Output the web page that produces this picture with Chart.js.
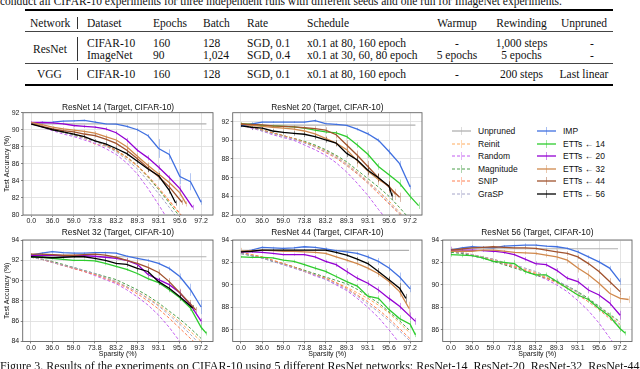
<!DOCTYPE html>
<html><head><meta charset="utf-8">
<script src="https://cdn.jsdelivr.net/npm/chart.js@4"></script>
<style>
html,body{margin:0;padding:0;background:#fff;width:640px;height:369px;overflow:hidden;position:relative}
.t{position:absolute;font-family:'Liberation Serif','Times New Roman',serif;font-size:11.5px;color:#111;white-space:nowrap;line-height:12px}
.c{transform:translateX(-50%)}
.rule{position:absolute;background:#000;left:25px;width:588px}
.vbar{position:absolute;width:1px;background:#333;left:77px}
canvas{position:absolute}
.lg{position:absolute;font-family:'Liberation Sans',Arial,sans-serif;font-size:8.5px;color:#111;white-space:nowrap;line-height:10px}
.sw{position:absolute}
</style></head><body>
<div class="t" style="left:0;top:-5.5px">conduct all CIFAR-10 experiments for three independent runs with different seeds and one run for ImageNet experiments.</div>
<div class="rule" style="top:9px;height:1.5px"></div>
<div class="rule" style="top:31px;height:1px;background:#444"></div>
<div class="rule" style="top:63px;height:1px;background:#444"></div>
<div class="rule" style="top:84px;height:1.5px"></div>
<div class="vbar" style="top:16.5px;height:12px"></div>
<div class="vbar" style="top:36.5px;height:24px"></div>
<div class="vbar" style="top:68px;height:12px"></div>
<div id="table"></div>
<div id="legend"></div>
<canvas id="c0"></canvas><canvas id="c1"></canvas><canvas id="c2"></canvas><canvas id="c3"></canvas><canvas id="c4"></canvas>
<div class="t" style="left:0;top:359.5px;font-size:12px;line-height:13px">Figure 3. Results of the experiments on CIFAR-10 using 5 different ResNet networks: ResNet-14, ResNet-20, ResNet-32, ResNet-44</div>
<script>
// ---------- table text ----------
const tableHeader = ['Network','Dataset','Epochs','Batch','Rate','Schedule','Warmup','Rewinding','Unpruned'];
const rowResNetCifar = ['CIFAR-10','160','128','SGD, 0.1','x0.1 at 80, 160 epoch','-','1,000 steps','-'];
const rowResNetImageNet = ['ImageNet','90','1,024','SGD, 0.4','x0.1 at 30, 60, 80 epoch','5 epochs','5 epochs','-'];
const rowVgg = ['CIFAR-10','160','128','SGD, 0.1','x0.1 at 80, 160 epoch','-','200 steps','Last linear'];
const groupNames = ['ResNet','VGG'];

// ---------- chart data ----------
const levels = [0,1,2,3,4,5,6,7,8,9,10,11,12,13,14,15,16];
const xTickValues = [0,2,4,6,8,10,12,14,16];
const xTickLabels = ['0.0','36.0','59.0','73.8','83.2','89.3','93.1','95.6','97.2'];
const titles = ['ResNet 14 (Target, CIFAR-10)','ResNet 20 (Target, CIFAR-10)','ResNet 32 (Target, CIFAR-10)','ResNet 44 (Target, CIFAR-10)','ResNet 56 (Target, CIFAR-10)'];
const unpruned = [90.7, 91.62, 92.35, 93.08, 93.22];
const unprunedEnd = [16.5, 16.5, 16.5, 15.9, 15.8];

// ResNet 14
const r14Reinit = [90.8,90.4,90.0,89.7,89.4,89.0,88.3,88.1,87.5,86.7,85.7,84.4,83.0,81.6,80.1,78.5,76.5];
const r14Random = [90.8,90.3,89.9,89.5,89.2,88.8,88.4,87.8,87.1,86.1,84.8,83.1,81.2,79.2,77.0,74.5,72.0];
const r14Magnitude = [90.7,90.4,90.0,89.7,89.4,89.1,88.7,88.2,87.6,86.8,85.8,84.5,83.0,81.4,79.8,78.0,76.0];
const r14Snip = [90.8,90.4,90.1,89.8,89.5,89.1,88.7,88.2,87.6,86.8,85.8,84.6,83.2,81.7,80.2,78.5,76.5];
const r14Grasp = [90.7,90.4,90.0,89.7,89.3,89.0,88.6,88.1,87.4,86.5,85.4,84.0,82.5,80.9,79.2,77.5,75.5];
const r14Imp = [90.75,90.85,90.9,91.0,91.05,91.1,90.9,90.7,90.65,90.4,90.0,89.3,87.8,87.1,84.5,83.9,81.5];
const r14ImpErr = [0.1,0.15,0.1,0.1,0.1,0.1,0.15,0.1,0.1,0.15,0.2,0.2,1.1,0.6,0.9,1.0,0.3];
const r14E20x = [0,1,2,3,4,5,6,7,8,9,10,11,12,13,14,15.2];
const r14E20 = [90.85,90.85,90.8,90.7,90.5,90.4,90.3,90.1,89.65,88.8,87.6,86.7,85.6,84.4,83.1,80.9];
const r14E20Err = [0.15,0.1,0.1,0.15,0.2,0.2,0.15,0.2,0.2,0.25,0.2,0.3,0.3,0.25,0.35,0.3];
const r14E32x = [0,1,2,3,4,5,6,7,8,9,10,11,12,13,14,14.6];
const r14E32 = [90.85,90.6,90.3,90.1,89.95,89.8,89.6,89.2,88.8,88.0,86.9,85.8,84.8,83.8,82.6,81.3];
const r14E32Err = [0.1,0.1,0.15,0.2,0.2,0.2,0.25,0.25,0.3,0.5,0.4,0.4,0.35,0.5,0.4,0.3];
const r14E44x = [0,1,2,3,4,5,6,7,8,9,10,11,12,13,14.2];
const r14E44 = [90.7,90.4,90.1,89.9,89.75,89.5,89.3,88.9,88.4,87.6,86.6,85.5,84.5,83.3,81.5];
const r14E44Err = [0.1,0.15,0.15,0.2,0.2,0.25,0.2,0.3,0.35,0.4,0.4,0.5,0.4,0.4,0.3];
const r14E56x = [0,1,2,3,4,5,6,7,8,9,10,11,12,13,13.6];
const r14E56 = [90.65,90.35,90.0,89.75,89.5,89.2,88.7,88.35,87.8,87.2,86.3,85.4,84.6,82.9,81.4];
const r14E56Err = [0.1,0.1,0.15,0.15,0.2,0.2,0.2,0.25,0.25,0.3,0.3,0.35,0.3,0.4,0.3];

// ResNet 20
const r20Reinit = [91.7,91.4,91.1,90.8,90.5,90.2,89.8,89.4,88.9,88.3,87.5,86.6,85.6,84.6,83.5,82.3,81.0];
const r20Random = [91.7,91.3,91.0,90.6,90.3,90.0,89.5,89.0,88.4,87.6,86.6,85.4,84.1,82.6,81.2,80.0,78.0];
const r20Magnitude = [91.7,91.4,91.1,90.8,90.5,90.2,89.9,89.5,89.0,88.4,87.7,86.8,85.9,85.0,84.0,82.8,81.5];
const r20Snip = [91.8,91.4,91.1,90.8,90.5,90.2,89.8,89.3,88.7,88.1,87.3,86.4,85.4,84.3,83.2,82.1,80.5];
const r20Grasp = [91.7,91.4,91.0,90.7,90.4,90.1,89.7,89.3,88.8,88.2,87.4,86.5,85.5,84.5,83.3,82.2,81.0];
const r20Imp = [91.55,91.75,91.95,91.95,91.95,91.95,91.95,92.1,91.8,91.7,91.6,91.2,90.7,90.0,88.8,87.5,85.0];
const r20ImpErr = [0.15,0.2,0.1,0.1,0.15,0.1,0.15,0.15,0.1,0.1,0.1,0.15,0.2,0.2,0.3,0.3,0.25];
const r20E14x = [0,1,2,3,4,5,6,7,8,9,10,11,12,13,14,15,16,16.8];
const r20E14 = [91.8,91.7,91.6,91.55,91.5,91.45,91.3,91.1,90.9,90.8,90.4,89.5,88.5,87.2,86.3,85.4,84.0,83.0];
const r20E14Err = [0.15,0.1,0.1,0.1,0.15,0.15,0.15,0.2,0.2,0.2,0.25,0.3,0.4,0.35,0.5,0.4,0.4,0.35];
const r20E32x = [0,1,2,3,4,5,6,7,8,9,10,11,12,13,14,14.6];
const r20E32 = [91.75,91.6,91.5,91.4,91.3,91.2,91.0,90.7,90.2,89.7,89.0,87.8,86.7,85.8,85.1,84.2];
const r20E32Err = [0.15,0.1,0.15,0.15,0.2,0.2,0.25,0.3,0.3,0.4,0.6,0.7,0.6,0.6,0.7,0.6];
const r20E44x = [0,1,2,3,4,5,6,7,8,9,10,11,12,13,14,15];
const r20E44 = [91.75,91.7,91.65,91.55,91.5,91.45,91.35,91.25,91.1,90.6,89.5,88.4,87.2,86.0,85.0,83.9];
const r20E44Err = [0.1,0.1,0.15,0.15,0.2,0.2,0.2,0.25,0.3,0.4,0.5,0.5,0.6,0.5,0.6,0.5];
const r20E56x = [0,1,2,3,4,5,6,7,8,9,10,11,12,13,14,14.3];
const r20E56 = [91.55,91.4,91.3,91.0,90.85,90.75,90.65,90.4,90.05,89.7,88.6,87.9,86.8,86.0,85.1,84.0];
const r20E56Err = [0.1,0.3,0.2,0.2,0.2,0.25,0.3,0.3,0.3,0.3,0.4,0.4,0.5,0.4,0.5,0.4];

// ResNet 32
const r32Reinit = [92.35,92.1,91.8,91.5,91.2,90.9,90.6,90.3,89.9,89.4,88.9,88.3,87.6,86.8,85.9,85.0,84.0];
const r32Random = [92.35,92.1,91.8,91.5,91.2,90.9,90.5,90.1,89.7,89.1,88.4,87.6,86.6,85.4,84.0,82.5,81.0];
const r32Magnitude = [92.35,92.1,91.9,91.6,91.3,91.0,90.7,90.4,90.1,89.6,89.1,88.5,87.8,87.0,86.2,85.3,84.3];
const r32Snip = [92.3,92.1,91.8,91.5,91.2,90.9,90.6,90.2,89.8,89.3,88.7,88.0,87.2,86.3,85.3,84.3,83.3];
const r32Grasp = [92.3,92.1,91.8,91.5,91.3,91.0,90.7,90.3,89.9,89.4,88.9,88.2,87.5,86.6,85.7,84.7,83.6];
const r32Imp = [92.5,92.7,92.85,92.75,92.7,92.7,92.75,92.75,92.7,92.4,92.2,92.0,91.7,91.2,90.4,89.1,87.4];
const r32ImpErr = [0.1,0.1,0.1,0.1,0.1,0.1,0.1,0.1,0.1,0.1,0.15,0.15,0.15,0.2,0.3,0.6,0.7];
const r32E14x = [0,1,2,3,4,5,6,7,8,9,10,11,12,13,14,15,16,16.5];
const r32E14 = [92.35,92.3,92.2,92.1,92.0,92.0,91.95,91.7,91.4,91.1,90.7,90.2,89.8,89.1,88.3,87.3,85.4,84.8];
const r32E14Err = [0.1,0.1,0.1,0.1,0.1,0.1,0.15,0.2,0.15,0.15,0.2,0.2,0.2,0.25,0.3,0.3,0.3,0.2];
const r32E20x = [0,1,2,3,4,5,6,7,8,9,10,11,12,13,14,15,16];
const r32E20 = [92.45,92.5,92.5,92.45,92.45,92.45,92.4,92.3,92.2,92.0,91.6,90.6,90.1,89.6,88.8,87.6,86.0];
const r32E20Err = [0.15,0.1,0.1,0.1,0.15,0.15,0.15,0.2,0.2,0.2,0.3,0.3,0.2,0.25,0.3,0.3,0.3];
const r32E44x = [0,1,2,3,4,5,6,7,8,9,10,11,12,13,14,15,15.5];
const r32E44 = [92.6,92.6,92.55,92.5,92.5,92.55,92.6,92.5,92.3,92.0,91.7,91.3,90.8,89.9,88.8,87.7,87.1];
const r32E44Err = [0.1,0.1,0.1,0.1,0.15,0.15,0.15,0.2,0.2,0.25,0.4,0.4,0.3,0.35,0.4,0.4,0.3];
const r32E56x = [0,1,2,3,4,5,6,7,8,9,10,11,12,13,14,15.2];
const r32E56 = [92.35,92.3,92.25,92.3,92.35,92.35,92.2,92.0,91.7,91.6,91.2,90.9,89.9,89.25,88.4,87.3];
const r32E56Err = [0.1,0.1,0.1,0.1,0.15,0.15,0.15,0.2,0.2,0.25,0.3,0.3,0.35,0.3,0.35,0.3];

// ResNet 44
const r44Reinit = [92.9,92.7,92.5,92.2,91.9,91.6,91.3,90.9,90.6,90.2,89.8,89.3,88.8,88.2,87.5,86.6,85.7];
const r44Random = [92.8,92.6,92.4,92.1,91.8,91.5,91.2,90.8,90.5,90.0,89.5,88.8,88.0,87.1,86.0,84.8,83.5];
const r44Magnitude = [92.8,92.6,92.4,92.1,91.9,91.6,91.3,91.0,90.7,90.4,90.1,89.6,89.0,88.4,87.6,86.8,85.9];
const r44Snip = [92.9,92.7,92.5,92.2,91.9,91.6,91.2,90.9,90.6,90.2,89.7,89.1,88.5,87.8,87.0,86.1,85.2];
const r44Grasp = [92.8,92.6,92.4,92.1,91.8,91.5,91.2,90.9,90.5,90.1,89.6,89.0,88.3,87.6,86.8,85.9,85.0];
const r44Imp = [92.95,93.1,93.35,93.3,93.25,93.3,93.4,93.35,93.2,93.05,92.95,92.8,92.5,92.1,91.5,90.7,89.65];
const r44ImpErr = [0.15,0.1,0.1,0.1,0.1,0.1,0.1,0.1,0.15,0.1,0.15,0.15,0.2,0.3,0.3,0.4,0.3];
const r44E14x = [0,1,2,3,4,5,6,7,8,9,10,11,12,13,14,15,16,16.5];
const r44E14 = [92.5,92.45,92.45,92.4,92.2,92.1,91.8,91.5,91.2,90.75,90.3,89.9,89.0,88.8,87.8,87.0,86.5,85.55];
const r44E14Err = [0.1,0.1,0.1,0.1,0.15,0.15,0.2,0.2,0.2,0.2,0.2,0.2,0.25,0.25,0.3,0.3,0.3,0.2];
const r44E20x = [0,1,2,3,4,5,6,7,8,9,10,11,12,13,14,15,16,16.5];
const r44E20 = [92.95,92.95,92.9,92.8,92.7,92.7,92.7,92.5,92.1,91.8,91.2,90.6,90.15,89.55,88.8,88.1,87.2,86.75];
const r44E20Err = [0.1,0.1,0.1,0.1,0.1,0.1,0.15,0.15,0.15,0.2,0.3,0.25,0.25,0.3,0.3,0.3,0.35,0.3];
const r44E32x = [0,1,2,3,4,5,6,7,8,9,10,11,12,13,14,15,15.9];
const r44E32 = [93.0,93.05,93.1,93.05,93.0,93.0,92.95,92.9,92.8,92.5,92.2,91.9,91.5,91.0,90.3,89.4,87.9];
const r44E32Err = [0.3,0.1,0.1,0.1,0.1,0.1,0.1,0.15,0.15,0.15,0.15,0.2,0.2,0.3,0.4,0.5,0.6];
const r44E56x = [0,1,2,3,4,5,6,7,8,9,10,11,12,13,14,15,15.6];
const r44E56 = [92.95,93.0,93.1,93.1,93.1,93.1,93.1,93.1,93.1,92.9,92.65,92.3,91.9,91.2,90.45,89.7,88.8];
const r44E56Err = [0.1,0.1,0.1,0.1,0.1,0.1,0.1,0.1,0.1,0.15,0.15,0.2,0.2,0.3,0.3,0.5,0.4];

// ResNet 56
const r56Reinit = [93.0,92.9,92.7,92.5,92.3,92.0,91.7,91.4,91.1,90.7,90.3,89.8,89.3,88.7,88.0,87.3,86.5];
const r56Random = [93.0,92.8,92.6,92.4,92.1,91.9,91.6,91.3,90.9,90.5,90.0,89.4,88.6,87.7,86.6,85.3,84.0];
const r56Magnitude = [92.9,92.8,92.6,92.4,92.1,91.8,91.5,91.2,90.9,90.6,90.3,89.9,89.4,88.8,88.1,87.4,86.7];
const r56Snip = [93.0,92.9,92.7,92.5,92.2,91.9,91.6,91.3,91.0,90.6,90.2,89.7,89.1,88.5,87.8,87.0,86.2];
const r56Grasp = [93.0,92.9,92.7,92.5,92.3,92.0,91.8,91.5,91.2,90.8,90.4,89.9,89.3,88.7,88.0,87.2,86.4];
const r56Imp = [93.1,93.3,93.4,93.35,93.3,93.45,93.5,93.55,93.55,93.45,93.4,93.25,92.95,92.5,92.05,91.5,90.3];
const r56ImpErr = [0.1,0.1,0.15,0.1,0.1,0.1,0.1,0.15,0.1,0.1,0.1,0.1,0.15,0.15,0.2,0.2,0.3];
const r56E14x = [0,1,2,3,4,5,6,7,8,9,10,11,12,13,14,15,16,16.5];
const r56E14 = [92.7,92.65,92.6,92.4,92.1,92.0,91.9,91.2,90.9,90.9,90.3,89.7,89.1,88.7,87.9,87.2,86.1,85.7];
const r56E14Err = [0.2,0.2,0.15,0.2,0.2,0.2,0.3,0.25,0.2,0.2,0.25,0.2,0.3,0.3,0.3,0.35,0.3,0.2];
const r56E20x = [0,1,2,3,4,5,6,7,8,9,10,11,12,13,14,15,16];
const r56E20 = [93.1,93.1,93.1,93.05,93.0,92.9,92.7,92.3,91.9,91.8,91.3,90.6,90.3,89.55,89.1,88.4,87.3];
const r56E20Err = [0.3,0.15,0.1,0.1,0.15,0.15,0.15,0.2,0.2,0.2,0.2,0.2,0.3,0.3,0.3,0.3,0.4];
const r56E32x = [0,1,2,3,4,5,6,7,8,9,10,11,12,13,14,15,16,16.8];
const r56E32 = [93.0,93.0,93.0,93.1,93.1,93.0,92.9,92.85,92.8,92.65,92.5,92.2,91.5,90.9,90.15,89.25,88.8,88.7];
const r56E32Err = [0.2,0.1,0.1,0.1,0.1,0.1,0.15,0.15,0.15,0.2,0.3,0.3,0.4,0.4,0.4,0.5,0.4,0.3];
const r56E44x = [0,1,2,3,4,5,6,7,8,9,10,11,12,13,14,15,16];
const r56E44 = [93.1,93.2,93.3,93.35,93.4,93.35,93.3,93.3,93.25,93.1,92.95,92.8,92.5,91.9,91.2,90.3,89.4];
const r56E44Err = [0.1,0.1,0.1,0.1,0.1,0.1,0.1,0.15,0.15,0.15,0.2,0.2,0.2,0.2,0.2,0.3,0.3];

// ---------- legend ----------
const legendNames = ['Unpruned','Reinit','Random','Magnitude','SNIP','GraSP','IMP','ETTs \u2190 14','ETTs \u2190 20','ETTs \u2190 32','ETTs \u2190 44','ETTs \u2190 56'];
const legendColors = ['#b0b0b0','#ffab5c','#c25cf0','#4a9e4a','#ff7f50','#a4a4c8','#4070e0','#2ecc2e','#9400d3','#d0884c','#a0522d','#000000'];
const legendDashed = [false,true,true,true,true,true,false,false,false,false,false,false];

// ---------- build table ----------
(function(){
  const host = document.getElementById('table');
  function put(text, x, cy, center){
    const d = document.createElement('div');
    d.className = 't' + (center ? ' c' : '');
    d.textContent = text;
    d.style.left = x + 'px';
    d.style.top = (cy - 6) + 'px';
    host.appendChild(d);
  }
  const leftX = [30, 87, 153, 203, 247, 307];
  const centerX = [457, 521.5, 584];
  tableHeader.forEach((h,i)=>{ if(i<6) put(h, leftX[i], 22.5, false); else put(h, centerX[i-6], 22.5, true); });
  put(groupNames[0], 33, 48.5, false);
  put(groupNames[1], 37, 73.5, false);
  [[rowResNetCifar,42.5],[rowResNetImageNet,54.5],[rowVgg,73.5]].forEach(([row,cy])=>{
    row.forEach((v,i)=>{
      if(i<5) put(v, leftX[i+1], cy, false);
      else { let cx = centerX[i-5]; if(i===7 && v==='-') cx = 592; put(v, cx, cy, true); }
    });
  });
})();

// ---------- build legend ----------
(function(){
  const host = document.getElementById('legend');
  const rowsY = [131,143.6,156.2,168.8,181.4,194];
  legendNames.forEach((name,i)=>{
    const col = i < 6 ? 0 : 1, r = i % 6;
    const sx = col ? 537 : 452, tx = col ? 563 : 478;
    const cy = rowsY[r];
    const svg = document.createElementNS('http://www.w3.org/2000/svg','svg');
    svg.setAttribute('class','sw'); svg.setAttribute('width','20'); svg.setAttribute('height','10');
    svg.style.left = sx + 'px'; svg.style.top = (cy - 5) + 'px';
    const c = legendColors[i];
    svg.innerHTML = '<line x1="9.5" y1="1" x2="9.5" y2="9" stroke="'+c+'" stroke-opacity="0.45" stroke-width="1"/>' +
      '<line x1="0" y1="5" x2="19" y2="5" stroke="'+c+'" stroke-width="'+(legendDashed[i]?1:1.3)+'"'+(legendDashed[i]?' stroke-dasharray="3,2"':'')+'/>';
    host.appendChild(svg);
    const d = document.createElement('div');
    d.className = 'lg'; d.textContent = name;
    d.style.left = tx + 'px'; d.style.top = (cy - 5) + 'px';
    host.appendChild(d);
  });
})();

// ---------- charts ----------
const panels = [
  {canvas:[0,97,216,224], plot:[23,112.7,213,215], y:[80,92], yt:[80,82,84,86,88,90,92], ylab:true, xlab:false, ty:107.3,
   base:[r14Reinit,r14Random,r14Magnitude,r14Snip,r14Grasp], imp:[r14Imp,r14ImpErr],
   etts:[[8,r14E20x,r14E20,r14E20Err],[9,r14E32x,r14E32,r14E32Err],[10,r14E44x,r14E44,r14E44Err],[11,r14E56x,r14E56,r14E56Err]]},
  {canvas:[216,97,426,224], plot:[232.7,112.7,422,215], y:[82,92.96], yt:[82,84,86,88,90,92], ylab:false, xlab:false, ty:107.3,
   base:[r20Reinit,r20Random,r20Magnitude,r20Snip,r20Grasp], imp:[r20Imp,r20ImpErr],
   etts:[[7,r20E14x,r20E14,r20E14Err],[9,r20E32x,r20E32,r20E32Err],[10,r20E44x,r20E44,r20E44Err],[11,r20E56x,r20E56,r20E56Err]]},
  {canvas:[0,222,216,358], plot:[22.7,240,213,341.5], y:[84,94], yt:[84,86,88,90,92,94], ylab:true, xlab:true, ty:232.5,
   base:[r32Reinit,r32Random,r32Magnitude,r32Snip,r32Grasp], imp:[r32Imp,r32ImpErr],
   etts:[[7,r32E14x,r32E14,r32E14Err],[8,r32E20x,r32E20,r32E20Err],[10,r32E44x,r32E44,r32E44Err],[11,r32E56x,r32E56,r32E56Err]]},
  {canvas:[216,222,426,358], plot:[232.7,240,422,341.5], y:[84.96,94], yt:[86,88,90,92,94], ylab:false, xlab:true, ty:232.5,
   base:[r44Reinit,r44Random,r44Magnitude,r44Snip,r44Grasp], imp:[r44Imp,r44ImpErr],
   etts:[[7,r44E14x,r44E14,r44E14Err],[8,r44E20x,r44E20,r44E20Err],[9,r44E32x,r44E32,r44E32Err],[11,r44E56x,r44E56,r44E56Err]]},
  {canvas:[426,222,638,358], plot:[442.7,240,632,341.5], y:[84.96,94], yt:[86,88,90,92,94], ylab:false, xlab:true, ty:232.5,
   base:[r56Reinit,r56Random,r56Magnitude,r56Snip,r56Grasp], imp:[r56Imp,r56ImpErr],
   etts:[[7,r56E14x,r56E14,r56E14Err],[8,r56E20x,r56E20,r56E20Err],[9,r56E32x,r56E32,r56E32Err],[10,r56E44x,r56E44,r56E44Err]]}
];

function alpha(hex, a){
  const n = parseInt(hex.slice(1),16);
  return 'rgba('+((n>>16)&255)+','+((n>>8)&255)+','+(n&255)+','+a+')';
}

const errPlugin = {
  id:'errbars',
  beforeDatasetsDraw(chart){
    const {ctx, chartArea:a, scales:{x,y}} = chart;
    ctx.save();
    ctx.beginPath(); ctx.rect(a.left,a.top,a.right-a.left,a.bottom-a.top); ctx.clip();
    chart.data.datasets.forEach(ds=>{
      if(!ds.err) return;
      ctx.strokeStyle = alpha(ds.borderColor, 0.4); ctx.lineWidth = 1;
      ds.data.forEach((p,i)=>{
        const e = ds.err[i]; if(!e) return;
        const px = Math.round(x.getPixelForValue(p.x)) + 0.5;
        ctx.beginPath(); ctx.moveTo(px, y.getPixelForValue(p.y - e)); ctx.lineTo(px, y.getPixelForValue(p.y + e)); ctx.stroke();
      });
    });
    ctx.restore();
  }
};

const framePlugin = {
  id:'frame',
  afterDraw(chart, args, opts){
    const {ctx, chartArea:a} = chart;
    ctx.save();
    ctx.strokeStyle = '#666'; ctx.lineWidth = 0.9;
    ctx.strokeRect(a.left, a.top, a.right - a.left, a.bottom - a.top);
    ctx.fillStyle = '#111';
    ctx.font = '8.4px "Liberation Sans", Arial, sans-serif';
    ctx.textAlign = 'center'; ctx.textBaseline = 'middle';
    ctx.fillText(opts.text, (a.left + a.right) / 2, opts.ty);
    ctx.restore();
  }
};

panels.forEach((p, idx)=>{
  const [cl, ct, cr, cb] = p.canvas;
  const [pl, pt, pr, pb] = p.plot;
  const cv = document.getElementById('c' + idx);
  cv.width = cr - cl; cv.height = cb - ct;
  cv.style.left = cl + 'px'; cv.style.top = ct + 'px';
  const datasets = [];
  function add(i, xs, ys, err, order){
    const dashed = legendDashed[i];
    datasets.push({
      label: legendNames[i],
      data: xs.map((xv,k)=>({x:xv, y:ys[k]})),
      err: err,
      borderColor: legendColors[i],
      borderWidth: i === 0 ? 1.2 : (dashed ? 1 : 1.3),
      borderDash: dashed ? [3,2] : [],
      pointRadius: 0, fill:false, tension:0, order: order
    });
  }
  add(0, [0, unprunedEnd[idx]], [unpruned[idx], unpruned[idx]], null, 20);
  p.base.forEach((arr, k)=> add(k+1, levels, arr, null, 19 - k));
  add(6, levels, p.imp[0], p.imp[1], 6);
  p.etts.forEach(([i, xs, ys, err])=> add(i, xs, ys, err, 12 - i));
  const fontTick = {family:'"Liberation Sans", Arial, sans-serif', size:7};
  new Chart(cv, {
    type:'line',
    data:{datasets},
    plugins:[errPlugin, framePlugin],
    options:{
      responsive:false, animation:false, devicePixelRatio:1,
      layout:{padding:{left:0, top:pt - ct, right:cr - pr, bottom:0}},
      plugins:{legend:{display:false}, tooltip:{enabled:false}, title:{display:false},
               frame:{text:titles[idx], ty:p.ty - ct}},
      scales:{
        x:{type:'linear', min:-0.78, max:17.12,
           afterBuildTicks(s){ s.ticks = xTickValues.map(v=>({value:v})); },
           afterFit(s){ s.height = cb - pb; },
           ticks:{autoSkip:false, maxRotation:0, padding:0, color:'#222', font:fontTick,
                  callback:(v)=> xTickLabels[xTickValues.indexOf(v)]},
           grid:{color:'#dcdcdc', lineWidth:0.8, tickLength:2, tickColor:'#666'},
           border:{display:false},
           title:{display:p.xlab, text:'Sparsity (%)', color:'#111', font:{family:'"Liberation Sans", Arial, sans-serif', size:7}, padding:{top:0,bottom:0}}},
        y:{type:'linear', min:p.y[0], max:p.y[1],
           afterBuildTicks(s){ s.ticks = p.yt.map(v=>({value:v})); },
           afterFit(s){ s.width = pl - cl; },
           ticks:{padding:1.5, color:'#222', font:fontTick, callback:(v)=> String(v)},
           grid:{color:'#dcdcdc', lineWidth:0.8, tickLength:2, tickColor:'#666'},
           border:{display:false},
           title:{display:p.ylab, text:'Test Accuracy (%)', color:'#111', font:{family:'"Liberation Sans", Arial, sans-serif', size:7}, padding:{top:2.6,bottom:0}}}
      }
    }
  });
});
</script>
</body></html>
